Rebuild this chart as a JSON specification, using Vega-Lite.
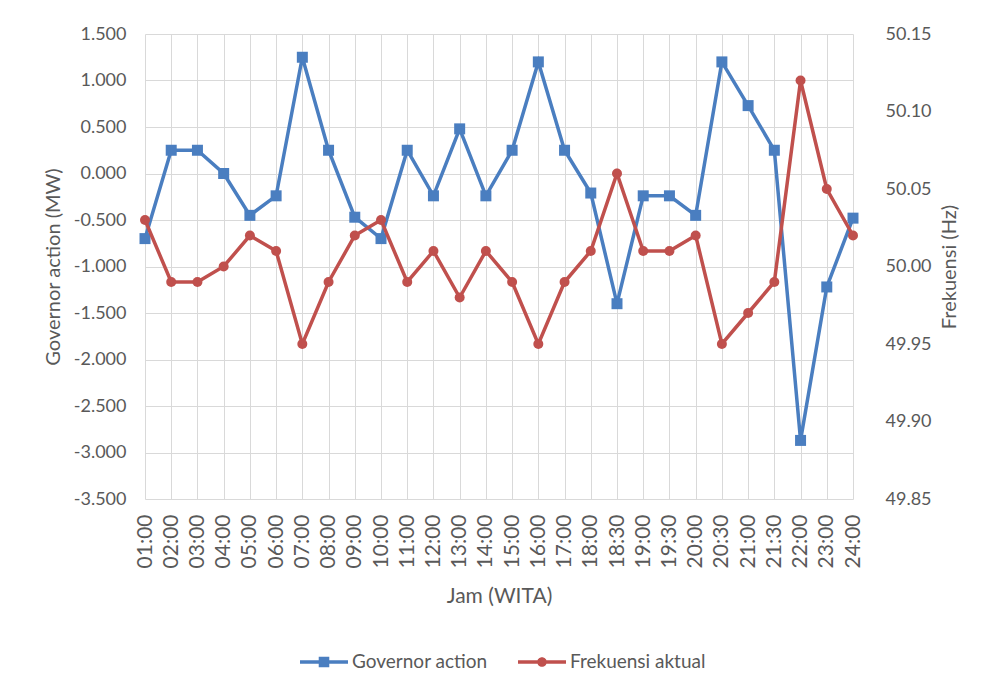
{
  "$schema": "https://vega.github.io/schema/vega-lite/v6.json",
  "width": 720,
  "height": 465,
  "autosize": {"type": "none"},
  "padding": {"left": 145, "top": 34, "right": 117, "bottom": 201},
  "background": "white",
  "config": {
    "view": {"stroke": null},
    "font": "Lato",
    "axis": {
      "labelColor": "#595959",
      "titleColor": "#595959",
      "labelFont": "Lato",
      "titleFont": "Lato",
      "titleFontWeight": "normal",
      "gridColor": "#D9D9D9",
      "gridWidth": 1,
      "domain": false,
      "ticks": false
    },
    "legend": {
      "labelColor": "#595959",
      "labelFont": "Lato"
    }
  },
  "data": {
    "values": [
      {"jam": "01:00", "gov": -0.70, "freq": 50.03},
      {"jam": "02:00", "gov": 0.25, "freq": 49.99},
      {"jam": "03:00", "gov": 0.25, "freq": 49.99},
      {"jam": "04:00", "gov": 0.00, "freq": 50.00},
      {"jam": "05:00", "gov": -0.45, "freq": 50.02},
      {"jam": "06:00", "gov": -0.24, "freq": 50.01},
      {"jam": "07:00", "gov": 1.25, "freq": 49.95},
      {"jam": "08:00", "gov": 0.25, "freq": 49.99},
      {"jam": "09:00", "gov": -0.47, "freq": 50.02},
      {"jam": "10:00", "gov": -0.70, "freq": 50.03},
      {"jam": "11:00", "gov": 0.25, "freq": 49.99},
      {"jam": "12:00", "gov": -0.24, "freq": 50.01},
      {"jam": "13:00", "gov": 0.48, "freq": 49.98},
      {"jam": "14:00", "gov": -0.24, "freq": 50.01},
      {"jam": "15:00", "gov": 0.25, "freq": 49.99},
      {"jam": "16:00", "gov": 1.20, "freq": 49.95},
      {"jam": "17:00", "gov": 0.25, "freq": 49.99},
      {"jam": "18:00", "gov": -0.21, "freq": 50.01},
      {"jam": "18:30", "gov": -1.40, "freq": 50.06},
      {"jam": "19:00", "gov": -0.24, "freq": 50.01},
      {"jam": "19:30", "gov": -0.24, "freq": 50.01},
      {"jam": "20:00", "gov": -0.45, "freq": 50.02},
      {"jam": "20:30", "gov": 1.20, "freq": 49.95},
      {"jam": "21:00", "gov": 0.73, "freq": 49.97},
      {"jam": "21:30", "gov": 0.25, "freq": 49.99},
      {"jam": "22:00", "gov": -2.87, "freq": 50.12},
      {"jam": "23:00", "gov": -1.22, "freq": 50.05},
      {"jam": "24:00", "gov": -0.48, "freq": 50.02}
    ]
  },
  "encoding": {
    "x": {
      "field": "jam",
      "type": "ordinal",
      "sort": null,
      "scale": {"type": "point", "range": [0, 708], "padding": 0},
      "axis": {
        "title": "Jam (WITA)",
        "labelAngle": -90,
        "labelFontSize": 21,
        "labelPadding": 15,
        "titleFontSize": 21,
        "titlePadding": 18,
        "grid": true
      }
    }
  },
  "layer": [
    {
      "encoding": {
        "y": {
          "field": "gov",
          "type": "quantitative",
          "scale": {"domain": [-3.5, 1.5], "nice": false, "zero": false},
          "axis": {
            "orient": "left",
            "title": "Governor action (MW)",
            "values": [-3.5, -3, -2.5, -2, -1.5, -1, -0.5, 0, 0.5, 1, 1.5],
            "labelExpr": "replace(format(datum.value, '.3f'), '\u2212', '-')",
            "labelFontSize": 18,
            "labelPadding": 19,
            "titleFontSize": 20,
            "titlePadding": 10,
            "grid": true
          }
        },
        "color": {
          "datum": "Governor action",
          "type": "nominal",
          "scale": {"domain": ["Governor action", "Frekuensi aktual"], "range": ["#4A7EC0", "#C0504D"]},
          "legend": {
            "title": null,
            "orient": "none",
            "legendX": 155,
            "legendY": 604,
            "direction": "horizontal",
            "labelFontSize": 19,
            "labelOffset": 4,
            "columnPadding": 30,
            "symbolSize": 2304,
            "symbolStrokeWidth": 0,
            "encode": {
              "symbols": {
                "update": {
                  "shape": {"signal": "datum.value === 'Governor action' ? 'M-1,-0.07H1V0.07H-1Z M-0.22,-0.22H0.22V0.22H-0.22Z' : 'M-1,-0.07H1V0.07H-1Z M-0.2,0A0.2,0.2 0 1,1 0.2,0A0.2,0.2 0 1,1 -0.2,0Z'"},
                  "fill": {"signal": "scale('color', datum.value)"},
                  "fillOpacity": {"value": 1},
                  "strokeWidth": {"value": 0}
                }
              }
            }
          }
        }
      },
      "layer": [
        {"mark": {"type": "line", "strokeWidth": 3.5}},
        {"mark": {"type": "point", "shape": "square", "filled": true, "size": 121, "opacity": 1}}
      ]
    },
    {
      "encoding": {
        "y": {
          "field": "freq",
          "type": "quantitative",
          "scale": {"domain": [49.85, 50.15], "nice": false, "zero": false},
          "axis": {
            "orient": "right",
            "title": "Frekuensi (Hz)",
            "titleAngle": -90,
            "values": [49.85, 49.9, 49.95, 50, 50.05, 50.1, 50.15],
            "format": ".2f",
            "labelFontSize": 18,
            "labelPadding": 20,
            "titleFontSize": 20,
            "titlePadding": 28,
            "grid": false
          }
        },
        "color": {"datum": "Frekuensi aktual", "type": "nominal"}
      },
      "layer": [
        {"mark": {"type": "line", "strokeWidth": 3.5}},
        {"mark": {"type": "point", "shape": "circle", "filled": true, "size": 100, "opacity": 1}}
      ]
    }
  ],
  "resolve": {"scale": {"y": "independent"}}
}
